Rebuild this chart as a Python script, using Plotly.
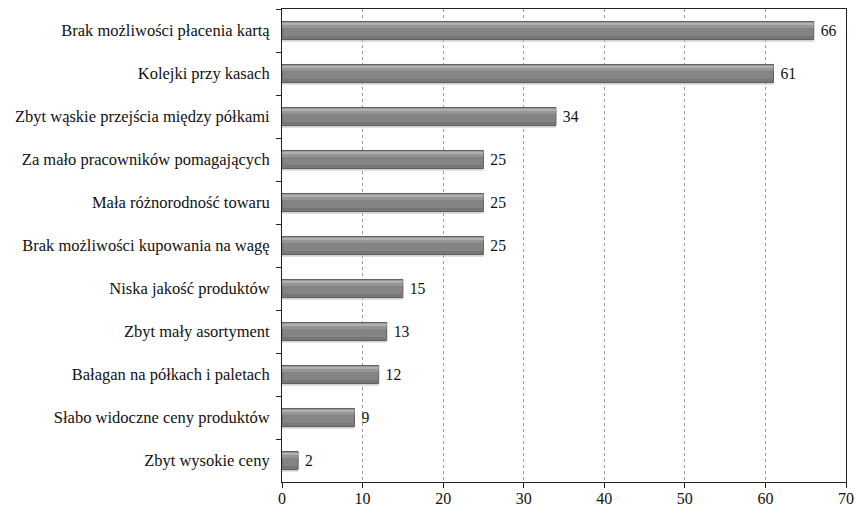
import plotly.graph_objects as go

categories = [
    "Brak możliwości płacenia kartą",
    "Kolejki przy kasach",
    "Zbyt wąskie przejścia między półkami",
    "Za mało pracowników pomagających",
    "Mała różnorodność towaru",
    "Brak możliwości kupowania na wagę",
    "Niska jakość produktów",
    "Zbyt mały asortyment",
    "Bałagan na półkach i paletach",
    "Słabo widoczne ceny produktów",
    "Zbyt wysokie ceny",
]
values = [66, 61, 34, 25, 25, 25, 15, 13, 12, 9, 2]
x_ticks = [0, 10, 20, 30, 40, 50, 60, 70]

SERIF = "Liberation Serif, Times New Roman, serif"
W = 0.42  # bar thickness in category units

fig = go.Figure()

# soft drop shadow under each bar
fig.add_trace(go.Bar(
    y=categories, x=values, orientation="h",
    width=W, offset=-W / 2 + 0.05,
    marker=dict(color="rgba(185,185,185,0.6)", line=dict(width=0)),
    hoverinfo="skip", showlegend=False,
))
# main cylinder body with value labels
fig.add_trace(go.Bar(
    y=categories, x=values, orientation="h",
    width=W, offset=-W / 2,
    marker=dict(color="#848484", line=dict(color="#5e5e5e", width=1)),
    text=values, texttemplate=" %{text}", textposition="outside",
    textfont=dict(family=SERIF, size=16.5, color="#111111"),
    cliponaxis=False, showlegend=False,
))
# light sheen along the upper edge
fig.add_trace(go.Bar(
    y=categories, x=values, orientation="h",
    width=W * 0.14, offset=-W / 2 + W * 0.06,
    marker=dict(color="#b0b0b0", line=dict(width=0)),
    hoverinfo="skip", showlegend=False,
))
fig.add_trace(go.Bar(
    y=categories, x=values, orientation="h",
    width=W * 0.16, offset=-W / 2 + W * 0.20,
    marker=dict(color="#959595", line=dict(width=0)),
    hoverinfo="skip", showlegend=False,
))
# slightly darker lower edge
fig.add_trace(go.Bar(
    y=categories, x=values, orientation="h",
    width=W * 0.16, offset=W / 2 - W * 0.20,
    marker=dict(color="#767676", line=dict(width=0)),
    hoverinfo="skip", showlegend=False,
))

fig.update_layout(
    width=856, height=508,
    margin=dict(l=282, r=10, t=9, b=26),
    paper_bgcolor="white", plot_bgcolor="white",
    barmode="overlay",
    uniformtext=dict(mode="show", minsize=10),
    font=dict(family=SERIF, size=16.5, color="#111111"),
    xaxis=dict(
        range=[0, 70], tickvals=x_ticks,
        showgrid=True, gridcolor="#9a9a9a", griddash="dot", gridwidth=1,
        showline=True, linecolor="#222222", linewidth=1, mirror=True,
        ticks="",
        minor=dict(ticks="outside", ticklen=5, tickcolor="#222222",
                   tickmode="array", tickvals=x_ticks, showgrid=False),
        tickfont=dict(family=SERIF, size=16),
        ticklabelstandoff=2,
        zeroline=False, automargin=False,
    ),
    yaxis=dict(
        categoryorder="array", categoryarray=categories,
        autorange="reversed",
        showline=True, linecolor="#222222", linewidth=1, mirror=True,
        ticks="outside", ticklen=5, tickcolor="#222222",
        tickson="boundaries", showgrid=False,
        tickfont=dict(family=SERIF, size=16.5),
        ticklabelstandoff=8, automargin=False,
    ),
)

fig.write_html("out.html")
